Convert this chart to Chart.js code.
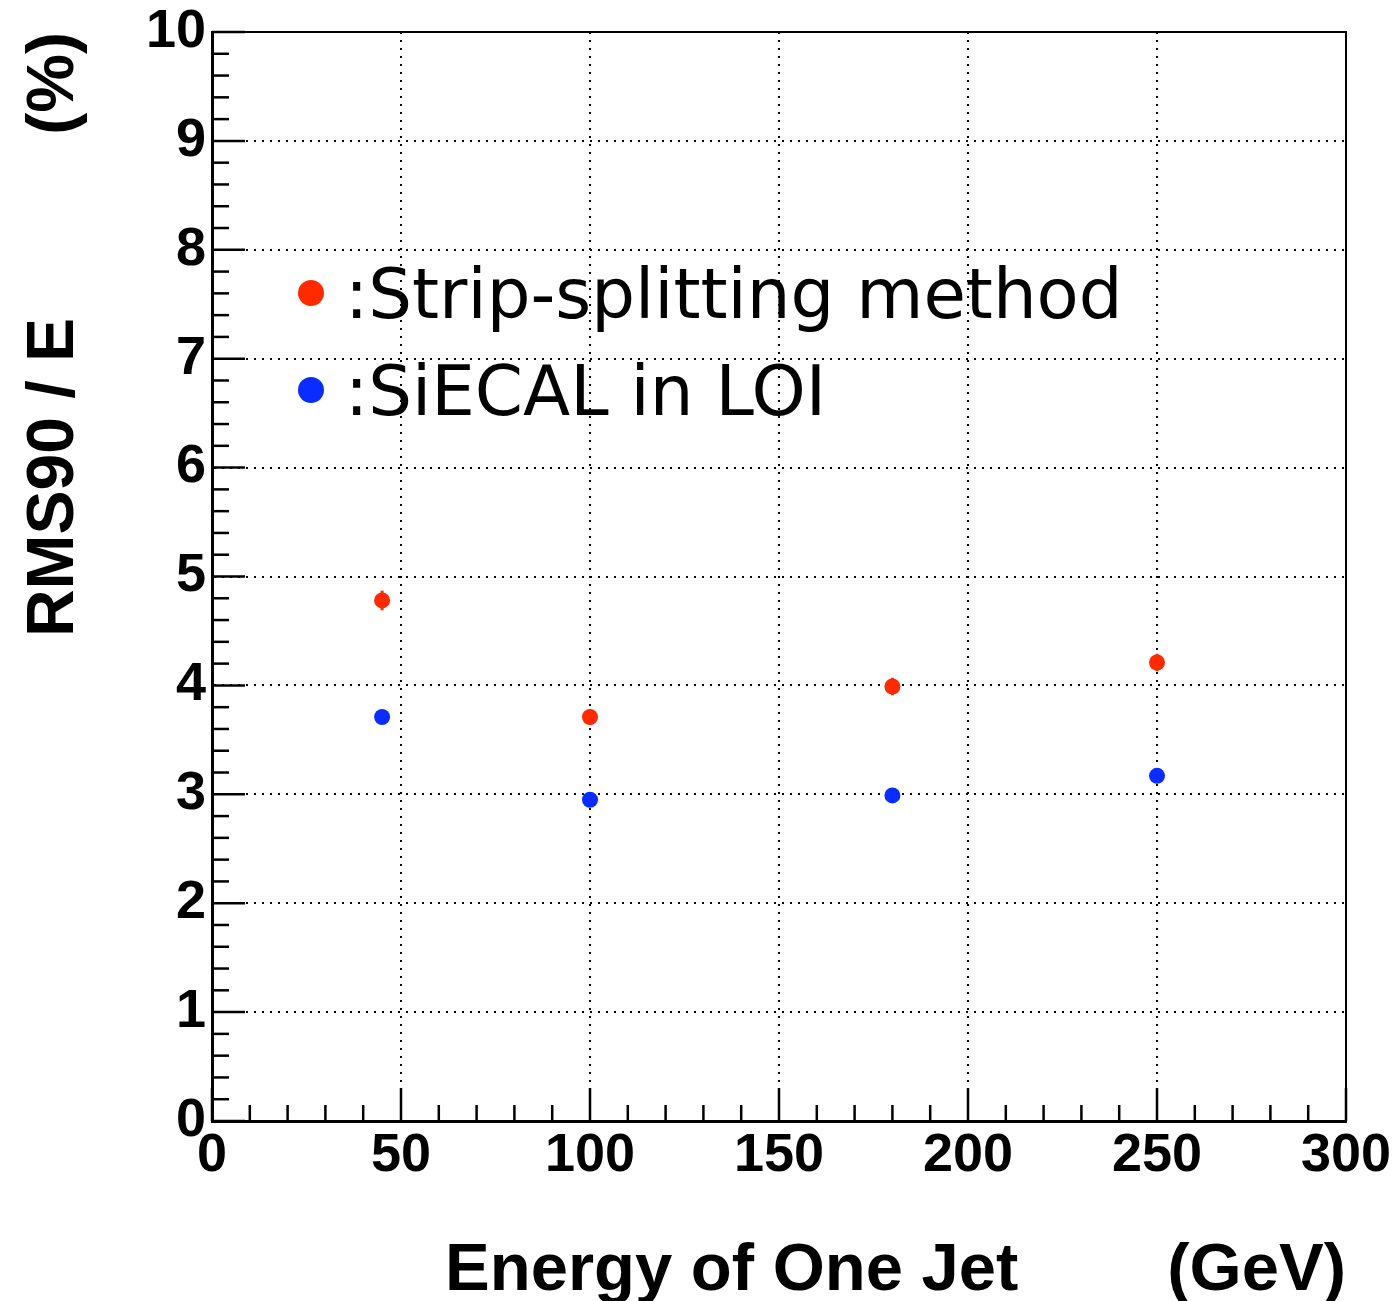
<!DOCTYPE html>
<html lang="en">
  <head>
    <meta charset="UTF-8" />
    <title>RMS90 / E vs jet energy</title>
    <style>
      * {
        margin: 0;
        padding: 0;
      }
      body {
        background: white;
      }
      canvas {
        display: block;
      }
    </style>
  </head>
  <body>
    <canvas id="myChart" width="1397" height="1301"></canvas>

    <script src="https://cdn.jsdelivr.net/npm/chart.js"></script>

    <script>
      // data block
      const energies = [45, 100, 180, 250];
      const stripSplitting = [4.78, 3.71, 3.99, 4.21];
      const stripErrors = [0.09, 0.07, 0.08, 0.08];
      const siecalLoi = [3.71, 2.95, 2.99, 3.17];
      const siecalErrors = [0.04, 0.04, 0.04, 0.04];
      const legendLabels = [":Strip-splitting method", ":SiECAL in LOI"];
      const xTickLabels = [0, 50, 100, 150, 200, 250, 300];
      const yTickLabels = [0, 1, 2, 3, 4, 5, 6, 7, 8, 9, 10];
      const xTitle = "Energy of One Jet        (GeV)";
      const yTitle = "RMS90 / E          (%)";

      const RED = "#ff2a00";
      const BLUE = "#0b2cff";

      const toPoints = (ys) => energies.map((x, i) => ({ x, y: ys[i] }));

      const data = {
        datasets: [
          {
            label: legendLabels[0],
            data: toPoints(stripSplitting),
            errors: stripErrors,
            backgroundColor: RED,
            borderColor: RED,
            pointRadius: 8,
            pointBorderWidth: 0
          },
          {
            label: legendLabels[1],
            data: toPoints(siecalLoi),
            errors: siecalErrors,
            backgroundColor: BLUE,
            borderColor: BLUE,
            pointRadius: 8,
            pointBorderWidth: 0
          }
        ]
      };

      // error bars, drawn under the markers
      const errorBars = {
        id: "errorBars",
        beforeDatasetsDraw(chart) {
          const { ctx, scales } = chart;
          ctx.save();
          ctx.lineWidth = 3;
          chart.data.datasets.forEach((ds) => {
            ctx.strokeStyle = ds.borderColor;
            ds.data.forEach((p, i) => {
              const x = scales.x.getPixelForValue(p.x);
              ctx.beginPath();
              ctx.moveTo(x, scales.y.getPixelForValue(p.y - ds.errors[i]));
              ctx.lineTo(x, scales.y.getPixelForValue(p.y + ds.errors[i]));
              ctx.stroke();
            });
          });
          ctx.restore();
        }
      };

      // inner tick marks, frame, titles and legend in ROOT style
      const rootFrame = {
        id: "rootFrame",
        afterDraw(chart) {
          const { ctx, chartArea: a, scales } = chart;
          ctx.save();
          ctx.strokeStyle = "#000";

          // frame top / right
          ctx.lineWidth = 2;
          ctx.beginPath();
          ctx.moveTo(a.left, a.top);
          ctx.lineTo(a.right, a.top);
          ctx.lineTo(a.right, a.bottom);
          ctx.stroke();

          // y ticks
          ctx.lineWidth = 2.5;
          for (let v = 0; v <= 10.001; v += 0.2) {
            const major = Math.abs(v - Math.round(v)) < 1e-6;
            const y = scales.y.getPixelForValue(v);
            ctx.beginPath();
            ctx.moveTo(a.left, y);
            ctx.lineTo(a.left + (major ? 33 : 17), y);
            ctx.stroke();
          }
          // x ticks
          for (let v = 0; v <= 300; v += 10) {
            const major = v % 50 === 0;
            const x = scales.x.getPixelForValue(v);
            ctx.beginPath();
            ctx.moveTo(x, a.bottom);
            ctx.lineTo(x, a.bottom - (major ? 33 : 16));
            ctx.stroke();
          }

          // axis titles
          ctx.fillStyle = "#000";
          ctx.font = "bold 67px 'Liberation Sans', Arial, sans-serif";
          ctx.textAlign = "right";
          ctx.textBaseline = "alphabetic";
          ctx.fillText(xTitle, a.right, 1290);

          ctx.font = "bold 66px 'Liberation Sans', Arial, sans-serif";
          ctx.save();
          ctx.translate(73, a.top);
          ctx.rotate(-Math.PI / 2);
          ctx.fillText(yTitle, 0, 0);
          ctx.restore();

          // legend
          ctx.textAlign = "left";
          ctx.font = "69px 'DejaVu Sans', sans-serif";
          chart.data.datasets.forEach((ds, i) => {
            const cy = 293 + i * 97;
            ctx.fillStyle = ds.backgroundColor;
            ctx.beginPath();
            ctx.arc(311, cy, 13, 0, Math.PI * 2);
            ctx.fill();
            ctx.fillStyle = "#000";
            ctx.fillText(ds.label, 345, cy + 25);
          });

          ctx.restore();
        }
      };

      const tickFont = {
        family: "'Liberation Sans', Arial, sans-serif",
        size: 54,
        weight: "bold"
      };

      const gridStyle = {
        color: "#000",
        lineWidth: 2,
        drawTicks: false
      };

      // config block
      const config = {
        type: "scatter",
        data,
        options: {
          responsive: false,
          animation: false,
          devicePixelRatio: 1,
          layout: {
            padding: { top: 32, right: 51, left: 0, bottom: 0 }
          },
          plugins: {
            legend: { display: false },
            tooltip: { enabled: false }
          },
          scales: {
            x: {
              type: "linear",
              min: 0,
              max: 300,
              afterBuildTicks: (scale) => {
                scale.ticks = xTickLabels.map((value) => ({ value }));
              },
              afterFit: (scale) => {
                scale.height = 180;
                scale.paddingLeft = 0;
                scale.paddingRight = 0;
              },
              grid: gridStyle,
              border: { display: true, color: "#000", width: 3, dash: [2, 6] },
              ticks: {
                color: "#000",
                font: tickFont,
                padding: 3,
                maxRotation: 0
              }
            },
            y: {
              type: "linear",
              min: 0,
              max: 10,
              afterBuildTicks: (scale) => {
                scale.ticks = yTickLabels.map((value) => ({ value }));
              },
              afterFit: (scale) => {
                scale.width = 212;
                scale.paddingTop = 0;
                scale.paddingBottom = 0;
              },
              grid: gridStyle,
              border: { display: true, color: "#000", width: 3, dash: [2, 6] },
              ticks: {
                color: "#000",
                font: tickFont,
                padding: 6
              }
            }
          }
        },
        plugins: [errorBars, rootFrame]
      };

      // init render block
      const ctx = document.getElementById("myChart");
      const myChart = new Chart(ctx, config);
    </script>
  </body>
</html>
